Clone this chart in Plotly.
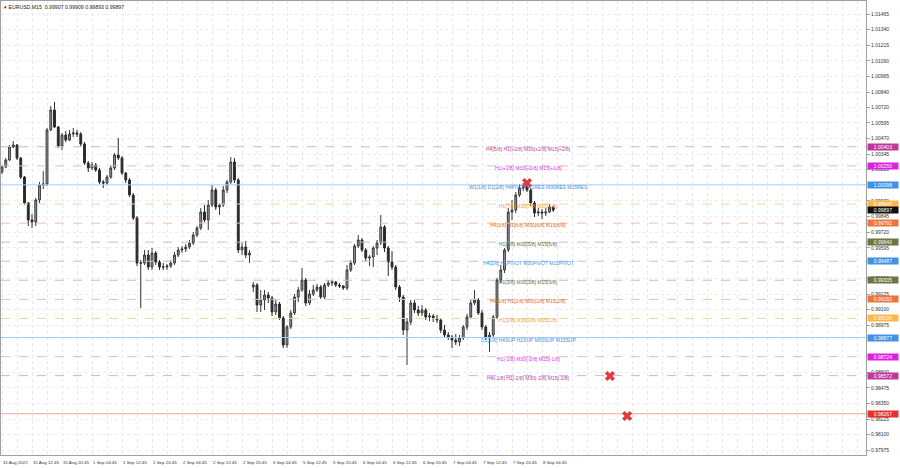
import plotly.graph_objects as go

# ---------------- data (hourly candles) ----------------
open_ = [1.00201, 1.00241, 1.00297, 1.00401, 1.00417, 1.00313, 1.00161, 0.99953, 0.99817, 0.99801,
         0.99977, 1.00097, 1.00105, 1.00537, 1.00697, 1.00561, 1.00409, 1.00497, 1.00457, 1.00505,
         1.00513, 1.00505, 1.00425, 1.00273, 1.00233, 1.00257, 1.00217, 1.00121, 1.00113, 1.00161,
         1.00233, 1.00337, 1.00313, 1.00193, 1.00137, 1.00017, 0.99833, 0.99473, 0.99473, 0.99537,
         0.99441, 0.99553, 0.99481, 0.99441, 0.99441, 0.99449, 0.99473, 0.99537, 0.99577, 0.99585,
         0.99601, 0.99633, 0.99697, 0.99753, 0.99881, 0.99817, 0.99937, 1.00057, 0.99921, 0.99937,
         1.00057, 1.00121, 1.00281, 1.00137, 0.99577, 0.99601, 0.99537, 0.99281, 0.99297, 0.99137,
         0.99177, 0.99217, 0.99193, 0.99081, 0.99145, 0.99033, 0.98817, 0.98961, 0.99073, 0.99201,
         0.99257, 0.99337, 0.99153, 0.99225, 0.99257, 0.99281, 0.99201, 0.99297, 0.99313, 0.99321,
         0.99297, 0.99289, 0.99273, 0.99417, 0.99473, 0.99609, 0.99657, 0.99577, 0.99513, 0.99521,
         0.99593, 0.99633, 0.99761, 0.99593, 0.99481, 0.99441, 0.99281, 0.99201, 0.98937, 0.99001,
         0.99153, 0.99097, 0.99073, 0.99097, 0.99041, 0.99049, 0.99033, 0.99017, 0.98937, 0.98897,
         0.98881, 0.98857, 0.98841, 0.98873, 0.98961, 0.99041, 0.99153, 0.99177, 0.99073, 0.98961,
         0.98881, 0.98897, 0.99041, 0.99337, 0.99417, 0.99577, 0.99881, 0.99897, 1.00017, 1.00073,
         1.00081, 1.00057, 0.99953, 0.99873, 0.99881, 0.99873, 0.99881, 0.99921]
high = [1.00257, 1.00313, 1.00417, 1.00449, 1.00425, 1.00321, 1.00169, 0.99961, 0.99865, 0.99993,
        1.00121, 1.00209, 1.00553, 1.00729, 1.00761, 1.00569, 1.00513, 1.00529, 1.00537, 1.00553,
        1.00537, 1.00521, 1.00441, 1.00289, 1.00281, 1.00273, 1.00233, 1.00137, 1.00177, 1.00257,
        1.00353, 1.00473, 1.00329, 1.00201, 1.00153, 1.00033, 0.99849, 0.99497, 0.99577, 0.99577,
        0.99593, 0.99569, 0.99497, 0.99473, 0.99465, 0.99497, 0.99561, 0.99601, 0.99609, 0.99625,
        0.99657, 0.99721, 0.99769, 0.99913, 0.99937, 0.99977, 1.00097, 1.00073, 0.99953, 1.00089,
        1.00137, 1.00321, 1.00313, 1.00153, 0.99633, 0.99649, 0.99577, 0.99321, 0.99313, 0.99257,
        0.99257, 0.99241, 0.99209, 0.99177, 0.99161, 0.99049, 0.98977, 0.99097, 0.99225, 0.99281,
        0.99433, 0.99353, 0.99257, 0.99297, 0.99305, 0.99297, 0.99313, 0.99337, 0.99337, 0.99329,
        0.99313, 0.99297, 0.99457, 0.99497, 0.99625, 0.99697, 0.99673, 0.99593, 0.99537, 0.99609,
        0.99657, 0.99857, 0.99777, 0.99609, 0.99569, 0.99457, 0.99297, 0.99217, 0.99033, 0.99177,
        0.99177, 0.99129, 0.99137, 0.99113, 0.99073, 0.99065, 0.99057, 0.99033, 0.98977, 0.98921,
        0.98897, 0.98905, 0.98897, 0.98977, 0.99065, 0.99177, 0.99257, 0.99193, 0.99097, 0.98977,
        0.98921, 0.99057, 0.99353, 0.99457, 0.99593, 0.99913, 0.99977, 1.00041, 1.00105, 1.00113,
        1.00121, 1.00073, 0.99969, 0.99913, 0.99905, 0.99913, 0.99945, 0.99929]
low = [1.00185, 1.00233, 1.00289, 1.00393, 1.00297, 1.00145, 0.99937, 0.99769, 0.99753, 0.99769,
       0.99953, 1.00065, 1.00089, 1.00529, 1.00553, 1.00393, 1.00377, 1.00441, 1.00449, 1.00481,
       1.00481, 1.00409, 1.00257, 1.00201, 1.00217, 1.00201, 1.00105, 1.00073, 1.00097, 1.00145,
       1.00217, 1.00297, 1.00177, 1.00113, 1.00001, 0.99817, 0.99449, 0.99113, 0.99457, 0.99417,
       0.99417, 0.99457, 0.99417, 0.99417, 0.99417, 0.99433, 0.99457, 0.99521, 0.99553, 0.99561,
       0.99585, 0.99617, 0.99681, 0.99737, 0.99801, 0.99737, 0.99921, 0.99897, 0.99857, 0.99921,
       1.00033, 1.00105, 1.00113, 0.99553, 0.99537, 0.99513, 0.99473, 0.99241, 0.99081, 0.99081,
       0.99097, 0.99153, 0.99049, 0.99057, 0.99017, 0.98793, 0.98793, 0.98945, 0.99057, 0.99161,
       0.99241, 0.99129, 0.99137, 0.99209, 0.99241, 0.99185, 0.99185, 0.99281, 0.99289, 0.99281,
       0.99273, 0.99257, 0.99257, 0.99401, 0.99457, 0.99593, 0.99561, 0.99489, 0.99449, 0.99441,
       0.99537, 0.99617, 0.99561, 0.99369, 0.99417, 0.99257, 0.99161, 0.98897, 0.98657, 0.98977,
       0.99073, 0.99049, 0.99049, 0.99017, 0.99009, 0.99001, 0.98993, 0.98913, 0.98873, 0.98857,
       0.98793, 0.98817, 0.98809, 0.98857, 0.98937, 0.99025, 0.99137, 0.99057, 0.98937, 0.98857,
       0.98761, 0.98881, 0.99025, 0.99313, 0.99393, 0.99561, 0.99817, 0.99873, 1.00001, 1.00049,
       1.00041, 0.99929, 0.99841, 0.99849, 0.99825, 0.99849, 0.99873, 0.99881]
close = [1.00241, 1.00297, 1.00401, 1.00417, 1.00313, 1.00161, 0.99953, 0.99817, 0.99801, 0.99977,
         1.00097, 1.00105, 1.00537, 1.00697, 1.00561, 1.00409, 1.00497, 1.00457, 1.00505, 1.00513,
         1.00505, 1.00425, 1.00273, 1.00233, 1.00257, 1.00217, 1.00121, 1.00113, 1.00161, 1.00233,
         1.00337, 1.00313, 1.00193, 1.00137, 1.00017, 0.99833, 0.99473, 0.99473, 0.99537, 0.99441,
         0.99553, 0.99481, 0.99441, 0.99441, 0.99449, 0.99473, 0.99537, 0.99577, 0.99585, 0.99601,
         0.99633, 0.99697, 0.99753, 0.99881, 0.99817, 0.99937, 1.00057, 0.99921, 0.99937, 1.00057,
         1.00121, 1.00281, 1.00137, 0.99577, 0.99601, 0.99537, 0.99553, 0.99297, 0.99137, 0.99177,
         0.99217, 0.99193, 0.99081, 0.99145, 0.99033, 0.98817, 0.98961, 0.99073, 0.99201, 0.99257,
         0.99337, 0.99153, 0.99225, 0.99257, 0.99281, 0.99201, 0.99297, 0.99313, 0.99321, 0.99297,
         0.99289, 0.99273, 0.99417, 0.99473, 0.99609, 0.99657, 0.99577, 0.99513, 0.99521, 0.99593,
         0.99633, 0.99761, 0.99593, 0.99481, 0.99441, 0.99281, 0.99201, 0.98937, 0.99001, 0.99153,
         0.99097, 0.99073, 0.99097, 0.99041, 0.99049, 0.99033, 0.99017, 0.98937, 0.98897, 0.98881,
         0.98857, 0.98841, 0.98873, 0.98961, 0.99041, 0.99153, 0.99177, 0.99073, 0.98961, 0.98881,
         0.98897, 0.99041, 0.99337, 0.99417, 0.99577, 0.99881, 0.99897, 1.00017, 1.00073, 1.00081,
         1.00057, 0.99953, 0.99873, 0.99881, 0.99873, 0.99881, 0.99921, 0.99897]

time_labels = ["31 Aug 2022", "31 Aug 12:45", "31 Aug 20:45", "1 Sep 04:45", "1 Sep 12:45",
               "1 Sep 20:45", "2 Sep 04:45", "2 Sep 12:45", "2 Sep 20:45", "5 Sep 04:45",
               "5 Sep 12:45", "5 Sep 20:45", "6 Sep 04:45", "6 Sep 12:45", "6 Sep 20:45",
               "7 Sep 04:45", "7 Sep 12:45", "7 Sep 20:45", "8 Sep 04:45"]
label_bars = [0, 8, 16, 24, 32, 40, 48, 56, 64, 72, 80, 88, 96, 104, 112, 120, 128, 136, 144]

price_ticks = [1.01465, 1.01340, 1.01215, 1.01090, 1.00965, 1.00840, 1.00720, 1.00595, 1.00470,
               1.00345, 1.00220, 0.99970, 0.99845, 0.99720, 0.99595, 0.99350,
               0.99225, 0.99100, 0.98975, 0.98600, 0.98475, 0.98350, 0.98225,
               0.98100, 0.97975]

level_prices = [1.00403, 1.00250, 1.00098, 0.99945, 0.99792, 0.99640, 0.99487, 0.99335,
                0.99182, 0.99030, 0.98877, 0.98724, 0.98572, 0.98267]
level_texts = ["H4[5/8] H1[+2/8] M30[+2/8] M15[+2/8]", "H1[+1/8] M30[+1/8] M15[+1/8]",
               "W1[1/8] D1[2/8] H4PIVOT H1RES M30RES M15RES", "H1[7/8] M30[7/8] M15[7/8]",
               "H4[3/8] H1[6/8] M30[6/8] M15[6/8]", "H1[5/8] M30[5/8] M15[5/8]",
               "H4[2/8] H1PIVOT M30PIVOT M15PIVOT", "H1[3/8] M30[3/8] M15[3/8]",
               "H4[1/8] H1[2/8] M30[2/8] M15[2/8]", "H1[1/8] M30[1/8] M15[1/8]",
               "D1[1/8] H4SUP H1SUP M30SUP M15SUP", "H1[-1/8] M30[-1/8] M15[-1/8]",
               "H4[-1/8] H1[-2/8] M30[-2/8] M15[-2/8]", ""]

current_price = 0.99897
title_text = "EURUSD,M15  0.99907 0.99909 0.99893 0.99897"

signal_bars = [140.0, 162.1, 166.7]
signal_prices = [1.00113, 0.98569, 0.98249]

# ---------------- styles ----------------
box_colors = ["#c0389c", "#e020e0", "#3f92e6", "#ffb548", "#f0733a", "#6b7645", "#3f92e6",
              "#6b7645", "#f0733a", "#ffb548", "#3f92e6", "#e020e0", "#c0389c", "#e8302c"]
text_colors = ["#b04a9e", "#d83ad8", "#3f8fde", "#f0a030", "#e06a2c", "#646c48", "#3f8fde",
               "#646c48", "#e06a2c", "#f0a030", "#3f8fde", "#d83ad8", "#b04a9e", "#e8302c"]
line_colors = ["#dcaed2", "#eab0ea", "#a6cbf0", "#f5d2a0", "#f2bea0", "#c2c4ae", "#a6cbf0",
               "#c2c4ae", "#f2bea0", "#f5d2a0", "#a6cbf0", "#eab0ea", "#dcaed2", "#f2a4a2"]
line_dashes = ["dash", "dash", "solid", "dash", "dash", "dash", "dash",
               "dash", "dash", "dash", "solid", "dash", "dash", "solid"]

FONT = "Liberation Sans, Arial, sans-serif"
x_range = [-0.27, 230.4]
y_range = [0.97937, 1.01569]

fig = go.Figure()

# level lines
for p, c, d in zip(level_prices, line_colors, line_dashes):
    fig.add_trace(go.Scatter(x=x_range, y=[p, p], mode="lines",
                             line=dict(color=c, width=1, dash=d),
                             hoverinfo="skip", showlegend=False))

bars = list(range(len(close)))
fig.add_trace(go.Candlestick(
    x=bars, open=open_, high=high, low=low, close=close,
    increasing=dict(line=dict(color="#3a3a3a", width=1), fillcolor="#9c9c9c"),
    decreasing=dict(line=dict(color="#2a2a2a", width=1), fillcolor="#2a2a2a"),
    whiskerwidth=0, showlegend=False, hoverinfo="skip"))

fig.add_trace(go.Scatter(x=signal_bars, y=signal_prices, mode="markers",
                         marker=dict(symbol="x", size=9, color="#e03c3c", line=dict(width=0)),
                         showlegend=False, hoverinfo="skip"))

annotations = []
# level text labels
for p, t, c in zip(level_prices, level_texts, text_colors):
    if t:
        annotations.append(dict(x=140.3, y=p, xref="x", yref="y", text=t, showarrow=False,
                                xanchor="center", yanchor="middle", yshift=-2,
                                font=dict(family=FONT, size=5.0, color=c)))
# right axis boxes
for p, c in zip(level_prices, box_colors):
    annotations.append(dict(x=1, y=p, xref="paper", yref="y", text=f"{p:.5f}", showarrow=False,
                            xanchor="left", yanchor="middle", xshift=1, bgcolor=c,
                            width=30, height=6, borderpad=0, align="center",
                            font=dict(family=FONT, size=5, color="white")))
annotations.append(dict(x=1, y=current_price, xref="paper", yref="y", text=f"{current_price:.5f}",
                        showarrow=False, xanchor="left", yanchor="middle", xshift=1,
                        bgcolor="#111111", width=30, height=6, borderpad=0, align="center",
                        font=dict(family=FONT, size=5, color="white")))
# time labels (left aligned at bar position)
for b, t in zip(label_bars, time_labels):
    annotations.append(dict(x=b, y=0, xref="x", yref="paper", text=t, showarrow=False,
                            xanchor="left", yanchor="top", yshift=-3, xshift=-1,
                            font=dict(family=FONT, size=4.4, color="#333333")))
# title
annotations.append(dict(x=0, y=1, xref="paper", yref="paper", text="▾ " + title_text,
                        showarrow=False, xanchor="left", yanchor="top", xshift=1, yshift=-1,
                        font=dict(family=FONT, size=5.2, color="#222222")))

fig.update_layout(
    width=900, height=468,
    margin=dict(l=1, r=34, t=1, b=13, pad=0, autoexpand=False),
    paper_bgcolor="white", plot_bgcolor="white",
    showlegend=False,
    annotations=annotations,
    xaxis=dict(range=x_range, showgrid=True, tick0=0, dtick=4, gridcolor="#e8e8e8",
               griddash="dot", gridwidth=1, showticklabels=False, ticks="", zeroline=False,
               showline=True, linecolor="#a0a0a0", linewidth=1, mirror=True,
               rangeslider=dict(visible=False), fixedrange=True, automargin=False),
    yaxis=dict(range=y_range, side="right", tickvals=price_ticks,
               ticktext=[f"{v:.5f}" for v in price_ticks], showgrid=True, gridcolor="#ececec",
               griddash="dot", gridwidth=1, ticks="outside", ticklen=3, tickcolor="#a0a0a0",
               tickfont=dict(family=FONT, size=5, color="#333333"), zeroline=False,
               showline=True, linecolor="#a0a0a0", linewidth=1, mirror=True, fixedrange=True,
               automargin=False),
)

fig.write_html("out.html", config={"displayModeBar": False},
               post_script="document.body.style.margin='0';document.body.style.overflow='hidden';")
